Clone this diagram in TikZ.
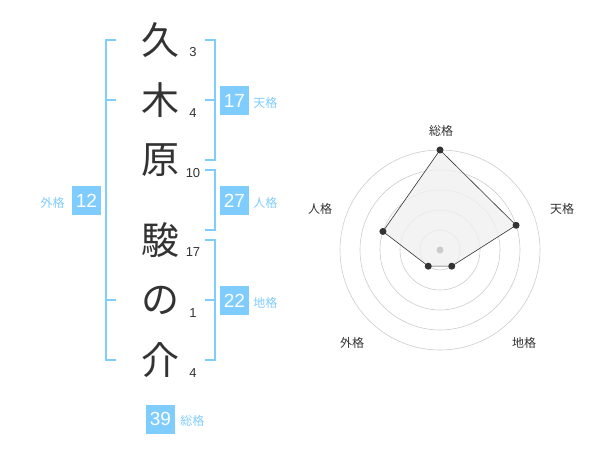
\documentclass[tikz,border=0pt]{standalone}
\usepackage{fontspec}
\setmainfont{Liberation Sans}
\newfontfamily\jp{Noto Sans CJK JP}
\definecolor{nameblue}{RGB}{127, 204, 255}
\definecolor{inkgray}{RGB}{51, 51, 51}
\definecolor{ringgray}{RGB}{204, 204, 204}
\definecolor{areagray}{RGB}{240, 240, 240}
\usetikzlibrary{positioning}

\begin{document}
\begin{tikzpicture}[x=1pt, y=-1pt,
    kanji/.style={inner sep=0, text=inkgray, font=\jp\fontsize{38}{38}\selectfont},
    strokes/.style={inner sep=0, text=inkgray, font=\fontsize{13}{13}\selectfont},
    bracket/.style={draw=nameblue, line width=2pt},
    scorebox/.style={fill=nameblue, minimum size=29pt, inner sep=0, text=white, font=\fontsize{19}{19}\selectfont},
    scorelabel/.style={inner sep=0, text=nameblue, font=\jp\fontsize{12}{12}\selectfont},
    ring/.style={draw=ringgray, line width=0.6pt},
    dot/.style={circle, fill=inkgray, inner sep=0, minimum size=7pt},
    axislabel/.style={inner sep=0, text=inkgray, font=\jp\fontsize{12}{12}\selectfont}]
    \useasboundingbox (0,0) rectangle (600,470);
    % name
    \node[kanji] (c1) at (160,40) {久};
    \node[kanji] (c2) at (160,100) {木};
    \node[kanji] (c3) at (160,160) {原};
    \node[kanji] (c4) at (160,240) {駿};
    \node[kanji] (c5) at (160,300) {の};
    \node[kanji] (c6) at (160,360) {介};
    \node[strokes] (s1) at (193,52) {3};
    \node[strokes] (s2) at (193,113) {4};
    \node[strokes] (s3) at (193,173) {10};
    \node[strokes] (s4) at (193,252) {17};
    \node[strokes] (s5) at (193,313) {1};
    \node[strokes] (s6) at (193,373) {4};
    % brackets
    \draw[bracket] (116,40) -- (105.5,40) -- (105.5,360) -- (116,360);
    \draw[bracket] (105.5,100) -- (116,100);
    \draw[bracket] (105.5,300) -- (116,300);
    \draw[bracket] (205,40) -- (214.5,40) -- (214.5,160) -- (205,160);
    \draw[bracket] (205,100) -- (214.5,100);
    \draw[bracket] (205,170) -- (214.5,170) -- (214.5,230) -- (205,230);
    \draw[bracket] (205,240) -- (214.5,240) -- (214.5,360) -- (205,360);
    \draw[bracket] (205,300) -- (214.5,300);
    % scores
    \node[scorebox] (ten) at (234.5,100.5) {17};
    \node[scorelabel, right=4pt of ten, yshift=-2pt] (tenl) {天格};
    \node[scorebox] (jin) at (234.5,200.5) {27};
    \node[scorelabel, right=4pt of jin, yshift=-2pt] (jinl) {人格};
    \node[scorebox] (chi) at (234.5,300.5) {22};
    \node[scorelabel, right=4pt of chi, yshift=-2pt] (chil) {地格};
    \node[scorebox] (gai) at (86.5,200.5) {12};
    \node[scorelabel, left=7pt of gai, yshift=-2pt] (gail) {外格};
    \node[scorebox] (sou) at (160.5,419) {39};
    \node[scorelabel, right=5pt of sou, yshift=-2pt] (soul) {総格};
    % radar chart
    \begin{scope}[shift={(440,250)}, y=1pt]
        \foreach \r in {20,40,...,100}
            \draw[ring] (0,0) circle (\r);
        \coordinate (p1) at (90:100);
        \coordinate (p2) at (18:80);
        \coordinate (p3) at (-54:20);
        \coordinate (p4) at (234:20);
        \coordinate (p5) at (162:60);
        \draw[fill=areagray, fill opacity=0.8, draw=inkgray, line width=0.6pt]
            (p1) -- (p2) -- (p3) -- (p4) -- (p5) -- cycle;
        \fill[ringgray] (0,0) circle (3.5);
        \foreach \p in {p1,p2,p3,p4,p5}
            \node[dot] at (\p) {};
        \node[axislabel] (a1) at (1,119) {総格};
        \node[axislabel] (a2) at (122,41) {天格};
        \node[axislabel] (a3) at (84,-93) {地格};
        \node[axislabel] (a4) at (-88,-93) {外格};
        \node[axislabel] (a5) at (-120,41) {人格};
    \end{scope}
\end{tikzpicture}
\end{document}
